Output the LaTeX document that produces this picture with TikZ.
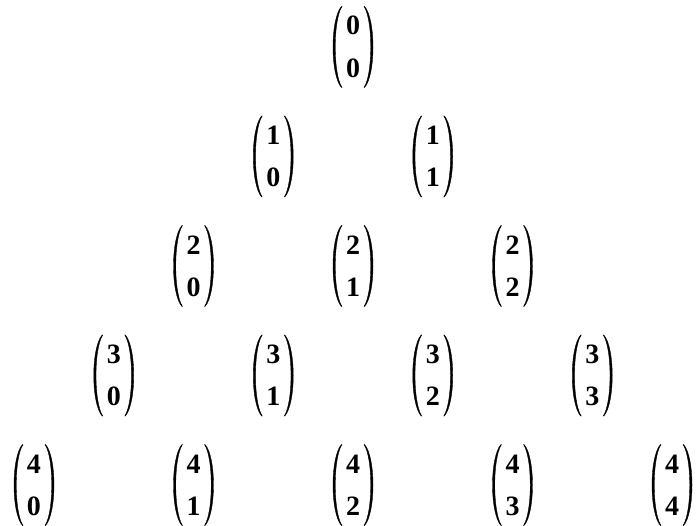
\documentclass[tikz,border=0pt]{standalone}
\usepackage{fontspec}
\setmainfont{Liberation Serif}
\newcommand\bpair[2]{\vbox{\offinterlineskip\hbox to 16pt{\hss\textbf{#1}\hss}\kern 23.5pt\hbox to 16pt{\hss\textbf{#2}\hss}}}
\newcommand\parenshape{(-11.6,40.5) .. controls (-22.8,28) and (-22.8,-28) .. (-11.6,-40.5) -- (-11.0,-40.5) .. controls (-20.0,-27) and (-20.0,27) .. (-11.0,40.5) -- cycle}
\tikzset{
  bnode/.style={inner sep=0pt, outer sep=0pt, font=\fontsize{28}{32}\selectfont\bfseries},
  parenfill/.style={fill=black, draw=black, line width=0.35pt}
}
\begin{document}
\begin{tikzpicture}[x=1pt,y=1pt]
\useasboundingbox (0,0) rectangle (696,-526);
\foreach \n in {0,...,4}{
  \foreach \k in {0,...,\n}{
    \node[bnode] (b\n\k) at ({353+(\k-\n/2)*159.5}, {-(47+\n*109.5)}) {\bpair{\n}{\k}};
    \begin{scope}[shift={(b\n\k.center)}]
      \path[parenfill] \parenshape;
      \path[parenfill, xscale=-1] \parenshape;
    \end{scope}
  }
}
\end{tikzpicture}
\end{document}
